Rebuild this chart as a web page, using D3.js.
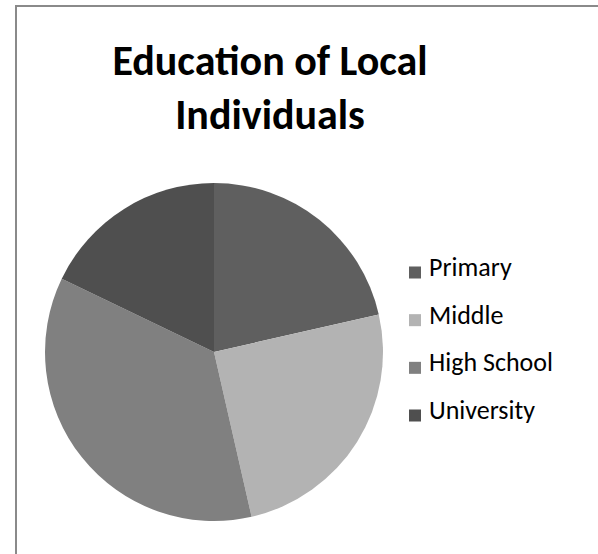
<!DOCTYPE html>
<html>
<head>
<meta charset="utf-8">
<script src="https://cdn.jsdelivr.net/npm/d3@7"></script>
<style>
  html, body { margin: 0; padding: 0; background: #fff; }
  svg { display: block; }
</style>
</head>
<body>
<svg id="chart" width="598" height="554"></svg>
<script>
// Education levels and counts
const categories = ["Primary", "Middle", "High School", "University"];
const values = [24, 28, 40, 20];
const sliceColors = ["#5f5f5f", "#b3b3b3", "#808080", "#4f4f4f"];
const titleLines = ["Education of Local", "Individuals"];

const svg = d3.select("#chart");
const W = 598, H = 554;
const font = "Carlito, Calibri, Lato, sans-serif";

// Chart frame
svg.append("rect")
  .attr("x", 0).attr("y", 0).attr("width", W).attr("height", H)
  .attr("fill", "#fff");
svg.append("path")
  .attr("d", `M16,${H} L16,6 L${W},6`)
  .attr("fill", "none")
  .attr("stroke", "#8a8a8a")
  .attr("stroke-width", 2);

// Title
svg.append("g").selectAll("text")
  .data(titleLines)
  .join("text")
  .attr("x", 270)
  .attr("y", (d, i) => 75 + i * 54)
  .attr("text-anchor", "middle")
  .attr("font-family", font)
  .attr("font-weight", "bold")
  .attr("font-size", 42)
  .attr("fill", "#000")
  .text(d => d);

// Pie
const data = categories.map((c, i) => ({ name: c, value: values[i], color: sliceColors[i] }));
const pie = d3.pie().value(d => d.value).sort(null);
const arc = d3.arc().innerRadius(0).outerRadius(169);

svg.append("g")
  .attr("transform", "translate(214,352)")
  .selectAll("path")
  .data(pie(data))
  .join("path")
  .attr("d", arc)
  .attr("fill", d => d.data.color);

// Legend
const legendY = d3.scalePoint().domain(categories).range([272.5, 415.5]);
const legend = svg.append("g")
  .selectAll("g")
  .data(data)
  .join("g")
  .attr("transform", d => `translate(409,${legendY(d.name)})`);
legend.append("rect")
  .attr("x", 0).attr("y", -6)
  .attr("width", 12).attr("height", 12)
  .attr("fill", d => d.color);
legend.append("text")
  .attr("x", 20).attr("y", 3.5)
  .attr("font-family", font)
  .attr("font-size", 26)
  .attr("fill", "#000")
  .text(d => d.name);
</script>
</body>
</html>
